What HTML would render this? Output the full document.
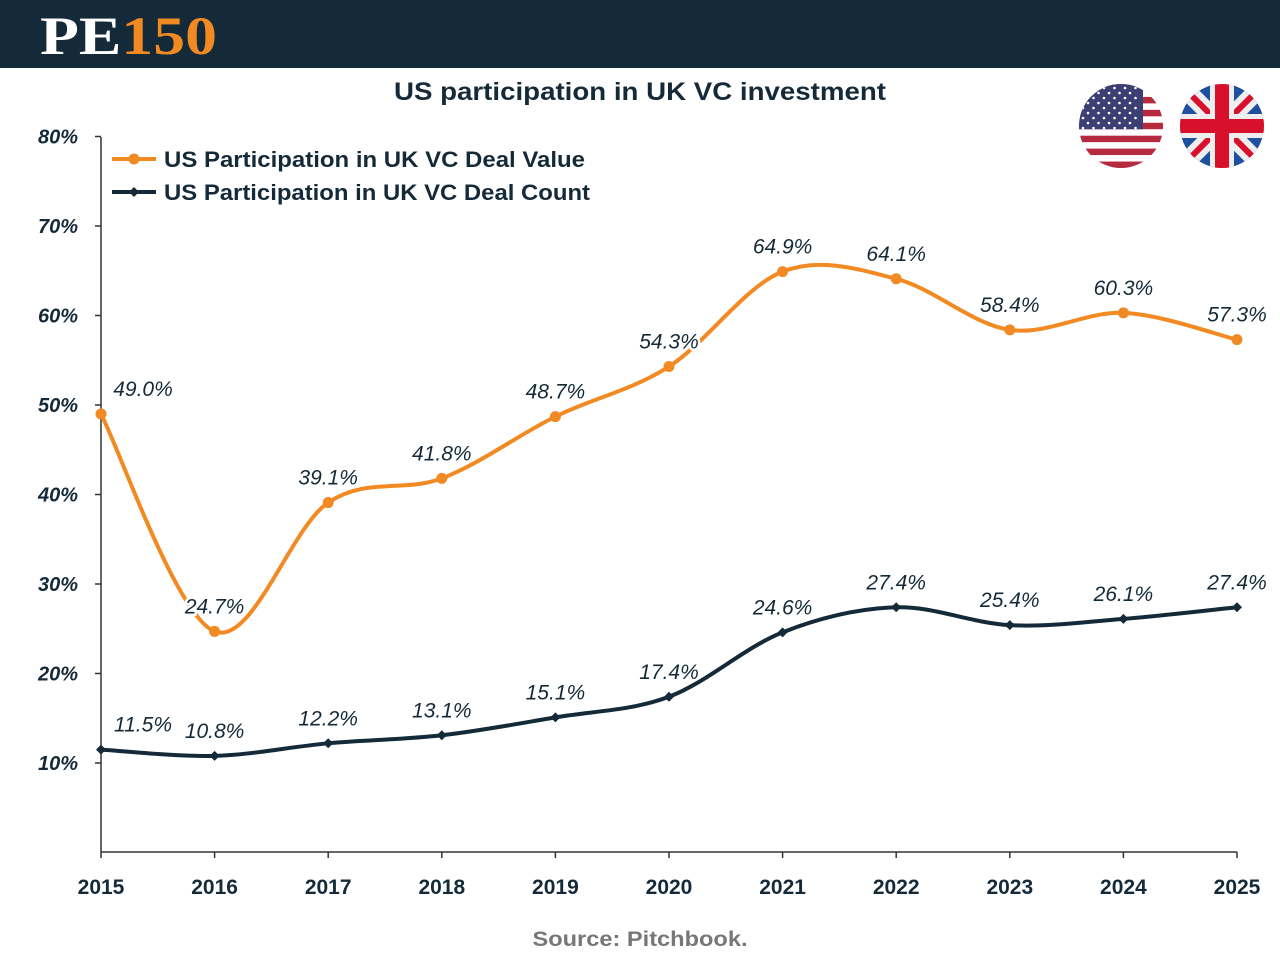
<!DOCTYPE html>
<html><head><meta charset="utf-8"><style>
html,body{margin:0;padding:0;background:#fff;width:1280px;height:960px;overflow:hidden}
body{font-family:"Liberation Sans","DejaVu Sans",sans-serif}
</style></head><body>
<svg id="c" width="1280" height="960" xmlns="http://www.w3.org/2000/svg">
<rect x="0" y="0" width="1280" height="68" fill="#152a38"/>
<text x="40" y="54" font-family="Liberation Serif,serif" font-weight="bold" font-size="54" fill="#fff" textLength="177" lengthAdjust="spacingAndGlyphs">PE<tspan fill="#f28a24">150</tspan></text>
<text x="640" y="100" text-anchor="middle" font-weight="bold" font-size="25" fill="#152a38" textLength="492" lengthAdjust="spacingAndGlyphs">US participation in UK VC investment</text>
<g>
<clipPath id="cu"><circle cx="1121" cy="126" r="42"/></clipPath>
<g clip-path="url(#cu)" id="usg"></g>
</g>
<g>
<clipPath id="ck"><circle cx="1222" cy="126" r="42"/></clipPath>
<g clip-path="url(#ck)">
<rect x="1180" y="84" width="84" height="84" fill="#1f4f9f"/>
<line x1="1180" y1="84" x2="1264" y2="168" stroke="#eee" stroke-width="18"/>
<line x1="1264" y1="84" x2="1180" y2="168" stroke="#eee" stroke-width="18"/>
<line x1="1180" y1="84" x2="1264" y2="168" stroke="#d8102c" stroke-width="6"/>
<line x1="1264" y1="84" x2="1180" y2="168" stroke="#d8102c" stroke-width="6"/>
<rect x="1180" y="114" width="84" height="24" fill="#eee"/>
<rect x="1210" y="84" width="24" height="84" fill="#eee"/>
<rect x="1180" y="119" width="84" height="14" fill="#d8102c"/>
<rect x="1215" y="84" width="14" height="84" fill="#d8102c"/>
</g></g>
<g id="plot"></g>
<text x="640" y="946" text-anchor="middle" font-weight="bold" font-size="21" fill="#777" textLength="215" lengthAdjust="spacingAndGlyphs">Source: Pitchbook.</text>
</svg>
<script>
const years=["2015","2016","2017","2018","2019","2020","2021","2022","2023","2024","2025"];
const dealValue=[49.0,24.7,39.1,41.8,48.7,54.3,64.9,64.1,58.4,60.3,57.3];
const dealCount=[11.5,10.8,12.2,13.1,15.1,17.4,24.6,27.4,25.4,26.1,27.4];
const yTicks=[10,20,30,40,50,60,70,80];
const NS="http://www.w3.org/2000/svg";
const X=i=>101+i*113.6;
const Y=v=>852.5-v*8.95;
function mk(t,a,p){const e=document.createElementNS(NS,t);for(const k in a)e.setAttribute(k,a[k]);(p||document.getElementById('plot')).appendChild(e);return e;}
// US flag
const ug=document.getElementById('usg');
for(let i=0;i<13;i++){mk('rect',{x:1079,y:84+i*84/13,width:84,height:84/13+0.5,fill:i%2?'#fff':'#b52a3f'},ug);}
mk('rect',{x:1079,y:84,width:64,height:84*7/13,fill:'#3b3f73'},ug);
for(let r=0;r<9;r++)for(let c=0;c<(r%2?5:6);c++){mk('circle',{cx:1083+c*10.5+(r%2?5:0),cy:88+r*5,r:1.3,fill:'#fff'},ug);}
// axes
const ax=mk('line',{x1:101,y1:137,x2:101,y2:852,stroke:'#333','stroke-width':1.5});

const bx=mk('line',{x1:101,y1:852,x2:1237,y2:852,stroke:'#333','stroke-width':1.5});

yTicks.forEach(v=>{
 mk('line',{x1:95,y1:Y(v),x2:101,y2:Y(v),stroke:'#333','stroke-width':1.5});
 const t=mk('text',{x:78,y:Y(v)+7,'text-anchor':'end','font-weight':'bold','font-style':'italic','font-size':20,fill:'#152a38'});
 t.textContent=v+'%';
 
 
});
years.forEach((y,i)=>{
 mk('line',{x1:X(i),y1:852,x2:X(i),y2:858,stroke:'#333','stroke-width':1.5});
 const t=mk('text',{x:X(i),y:894,'text-anchor':'middle','font-weight':'bold','font-size':21,fill:'#152a38'});
 t.textContent=y;
 
 
});
function path(vals){
 const p=vals.map((v,i)=>[X(i),Y(v)]);let d='M'+p[0][0]+','+p[0][1];
 for(let i=0;i<p.length-1;i++){const p0=p[i-1]||p[i],p1=p[i],p2=p[i+1],p3=p[i+2]||p2;
  d+=` C${p1[0]+(p2[0]-p0[0])/6},${p1[1]+(p2[1]-p0[1])/6} ${p2[0]-(p3[0]-p1[0])/6},${p2[1]-(p3[1]-p1[1])/6} ${p2[0]},${p2[1]}`;}
 return d;}
function series(vals,col,name,diamond){
 const l=mk('path',{d:path(vals),fill:'none',stroke:col,'stroke-width':4});
 
 vals.forEach((v,i)=>{
  let m;
  if(diamond){m=mk('path',{d:`M${X(i)},${Y(v)-5}l5,5l-5,5l-5,-5z`,fill:col});}
  else m=mk('circle',{cx:X(i),cy:Y(v),r:5.5,fill:col});
  
  const dx=i===0?42:0;
  const t=mk('text',{x:X(i)+dx,y:Y(v)-18,'text-anchor':'middle','font-style':'italic','font-size':21,fill:'#152a38',stroke:'#fff','stroke-width':5,'paint-order':'stroke'});
  t.textContent=v.toFixed(1)+'%';
  
 });
}
series(dealValue,'#f28a24','deal-value',false);
series(dealCount,'#152a38','deal-count',true);
// legend
const lg=[['#f28a24','US Participation in UK VC Deal Value',159,false,421],['#152a38','US Participation in UK VC Deal Count',192,true,426]];
lg.forEach(([c,txt,y,dm,w])=>{
 const g=mk('g',{});
 
 mk('line',{x1:112,y1:y,x2:156,y2:y,stroke:c,'stroke-width':4},g);
 if(dm)mk('path',{d:`M134,${y-5}l5,5l-5,5l-5,-5z`,fill:c},g);else mk('circle',{cx:134,cy:y,r:5.5,fill:c},g);
 const t=mk('text',{x:164,y:y+8,'font-weight':'bold','font-size':22,fill:'#152a38',textLength:w,lengthAdjust:'spacingAndGlyphs'},g);t.textContent=txt;
});
</script>
</body></html>
